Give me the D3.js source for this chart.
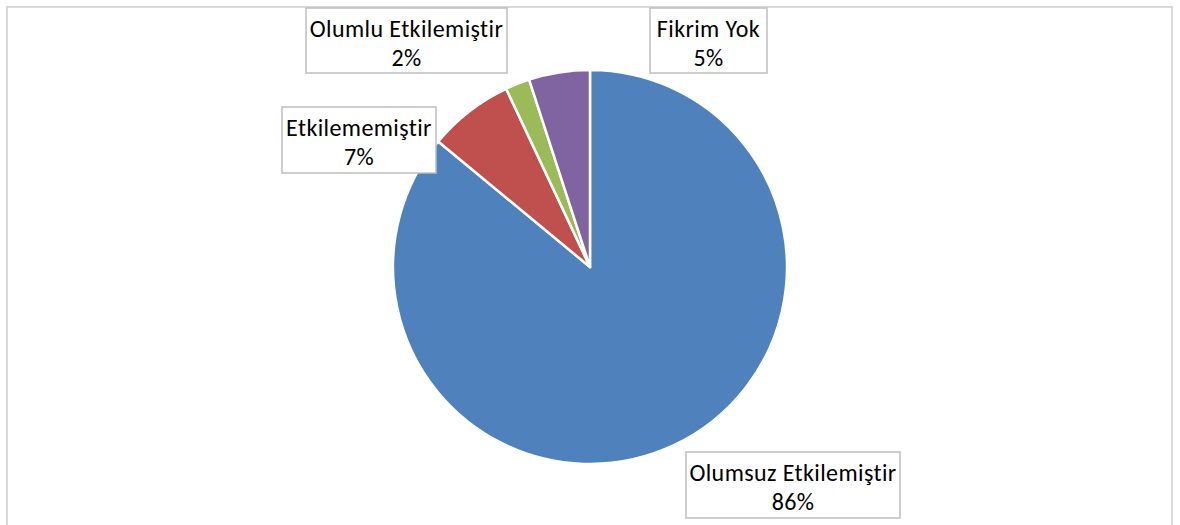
<!DOCTYPE html>
<html lang="tr">
<head>
<meta charset="utf-8">
<title>Pie</title>
<script src="https://d3js.org/d3.v7.min.js"></script>
<style>
  body { margin: 0; background: #fff; }
  svg { display: block; }
  .lbl text { font-family: Carlito, "Liberation Sans Narrow", "Open Sans", sans-serif; font-size: 24px; letter-spacing: 0.4px; fill: #000; }
</style>
</head>
<body>
<script>
// data
var categories = ["Olumsuz Etkilemiştir", "Etkilememiştir", "Olumlu Etkilemiştir", "Fikrim Yok"];
var values = [86, 7, 2, 5];
var colors = ["#4f81bd", "#c0504d", "#9bbb59", "#8064a2"];

var w = 1180, h = 525;
var cx = 590, cy = 267, r = 197;

// label boxes (x, y, w, h)
var boxes = [
  [686, 452, 214, 66],
  [282, 107, 154, 66],
  [306, 8, 201, 65],
  [650, 8, 117, 65]
];

var svg = d3.select("body").append("svg")
  .attr("width", w)
  .attr("height", h);

// chart frame
svg.append("rect")
  .attr("x", 7).attr("y", 7)
  .attr("width", 1165).attr("height", 530)
  .attr("fill", "none")
  .attr("stroke", "#d9d9d9")
  .attr("stroke-width", 2);

var pie = d3.pie().sort(null).value(function (d) { return d; });
var arc = d3.arc().innerRadius(0).outerRadius(r);

var g = svg.append("g").attr("transform", "translate(" + cx + "," + cy + ")");

g.selectAll("path")
  .data(pie(values))
  .enter()
  .append("path")
  .attr("d", arc)
  .attr("fill", function (d, i) { return colors[i]; })
  .attr("stroke", "#fff")
  .attr("stroke-width", 2.5)
  .attr("stroke-linejoin", "round");

var lbl = svg.selectAll("g.lbl")
  .data(categories)
  .enter()
  .append("g")
  .attr("class", "lbl");

lbl.append("rect")
  .attr("x", function (d, i) { return boxes[i][0]; })
  .attr("y", function (d, i) { return boxes[i][1]; })
  .attr("width", function (d, i) { return boxes[i][2]; })
  .attr("height", function (d, i) { return boxes[i][3]; })
  .attr("fill", "#fff")
  .attr("stroke", "#bfbfbf")
  .attr("stroke-width", 1.5);

lbl.append("text")
  .attr("text-anchor", "middle")
  .attr("x", function (d, i) { return boxes[i][0] + boxes[i][2] / 2; })
  .attr("y", function (d, i) { return boxes[i][1] + 29; })
  .text(function (d) { return d; });

lbl.append("text")
  .attr("text-anchor", "middle")
  .attr("x", function (d, i) { return boxes[i][0] + boxes[i][2] / 2; })
  .attr("y", function (d, i) { return boxes[i][1] + 58; })
  .text(function (d, i) { return values[i] + "%"; });
</script>
</body>
</html>
